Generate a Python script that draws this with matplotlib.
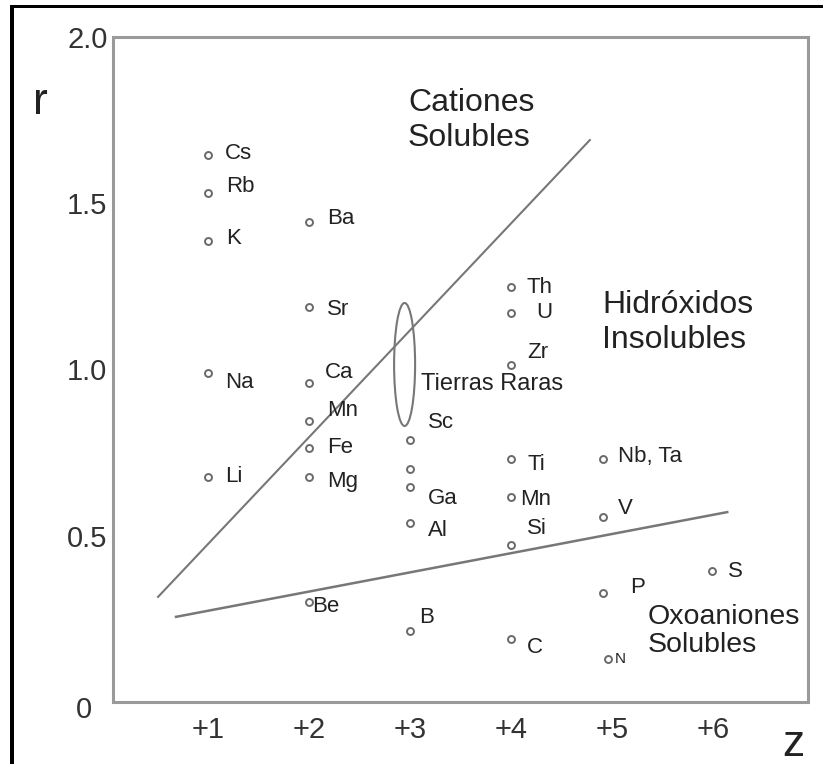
import matplotlib.pyplot as plt
from matplotlib.patches import Ellipse, Rectangle
from matplotlib.transforms import ScaledTranslation

plt.rcParams['font.family'] = ['Liberation Sans', 'DejaVu Sans']

W, H = 823, 764

# ionic charge (z) and ionic radius (r) of each element
elements = ["Cs", "Rb", "K", "Na", "Li",
            "Ba", "Sr", "Ca", "Mn", "Fe", "Mg", "Be",
            "Sc", "", "Ga", "Al", "B",
            "Th", "U", "Zr", "Ti", "Mn", "Si", "C",
            "Nb, Ta", "V", "P", "N",
            "S"]
z = [1, 1, 1, 1, 1,
     2, 2, 2, 2, 2, 2, 2,
     3, 3, 3, 3, 3,
     4, 4, 4, 4, 4, 4, 4,
     4.91, 4.91, 4.91, 4.96,
     5.99]
r = [1.645, 1.531, 1.386, 0.989, 0.677,
     1.444, 1.188, 0.959, 0.845, 0.764, 0.677, 0.301,
     0.788, 0.701, 0.647, 0.538, 0.214,
     1.248, 1.170, 1.014, 0.731, 0.617, 0.472, 0.189,
     0.731, 0.556, 0.328, 0.129,
     0.394]

# boundary lines between the fields
upper_z = [0.505, 4.78]
upper_r = [0.316, 1.690]
lower_z = [0.683, 6.14]
lower_r = [0.256, 0.571]

# rare earths group
ree_center = (2.946, 1.015)
ree_size = (0.208, 0.370)

# label offsets in pixels from each point
offsets = [(17, 2), (18, 6), (18, 3), (17, -9), (17, 0),
           (18, 3), (18, -3), (16, 11), (18, 11), (18, 0), (18, -5), (3, -5),
           (18, 17), (0, 0), (18, -12), (18, -7), (9, 13),
           (15, 0), (25, 0), (16, 12), (16, -6), (9, -3), (16, 17), (16, -8),
           (15, 2), (15, 9), (27, 5), (7, 0),
           (16, -1)]

fig = plt.figure(figsize=(W / 100, H / 100), dpi=100)
ax = fig.add_axes([0.1373, 0.0812, 0.8445, 0.8704])

gray = "#777777"
ink = "#222222"

ax.plot(upper_z, upper_r, color=gray, lw=1.5)
ax.plot(lower_z, lower_r, color=gray, lw=1.8)
ax.add_patch(Ellipse(ree_center, ree_size[0], ree_size[1],
                     fill=False, edgecolor=gray, lw=1.5))

ax.plot(z, r, linestyle="none", marker="o", markersize=5,
        markerfacecolor="white", markeredgecolor="#6a6a6a", markeredgewidth=1.4)

for name, x, y, (dx, dy) in zip(elements, z, r, offsets):
    if not name:
        continue
    size = 11 if name == "N" else 16
    ax.annotate(name, (x, y), xytext=(dx, dy), textcoords="offset pixels",
                ha="left", va="center", fontsize=size, color=ink)


def px_text(x, y, s, **kw):
    # place text by pixel position measured from the top-left corner
    fig.text(x / W, 1 - y / H, s, color=ink, **kw)


px_text(408, 88, "Cationes\nSolubles", fontsize=23, ha="left", va="top")
px_text(602, 290, "Hidróxidos\nInsolubles", fontsize=23, ha="left", va="top")
px_text(648, 604, "Oxoaniones\nSolubles", fontsize=20.5, ha="left", va="top",
        linespacing=1.1)
px_text(421, 384, "Tierras Raras", fontsize=17, ha="left", va="center")

ax.set_xlim(0.059, 6.94)
ax.set_ylim(0, 2.0)
ax.set_xticks([1, 2, 3, 4, 5, 6])
ax.set_xticklabels(["+1", "+2", "+3", "+4", "+5", "+6"])
ax.set_yticks([0, 0.5, 1.0, 1.5, 2.0])
ax.set_yticklabels(["0", "0.5", "1.0", "1.5", "2.0"])
ax.tick_params(axis="x", length=0, pad=10, labelsize=21, labelcolor="#333333")
ax.tick_params(axis="y", length=0, pad=4, labelsize=21, labelcolor="#333333")

# the zero label sits a little further left and lower than the others
zero = ax.get_yticklabels()[0]
zero.set_transform(zero.get_transform()
                   + ScaledTranslation(-15 / 100, -5 / 100, fig.dpi_scale_trans))

for side in ax.spines.values():
    side.set_color("#9a9a9a")
    side.set_linewidth(2.2)

# axis letters
px_text(40, 103, "r", fontsize=32, ha="center", va="center")
px_text(793, 745, "z", fontsize=32, ha="center", va="center")

# black frame on the left and top of the figure
fig.add_artist(Rectangle((10 / W, 0), 4 / W, 1 - 5 / H,
                         transform=fig.transFigure, color="black", lw=0))
fig.add_artist(Rectangle((10 / W, 1 - 8 / H), 1, 3 / H,
                         transform=fig.transFigure, color="black", lw=0))

fig.savefig("out.png", dpi=100)
